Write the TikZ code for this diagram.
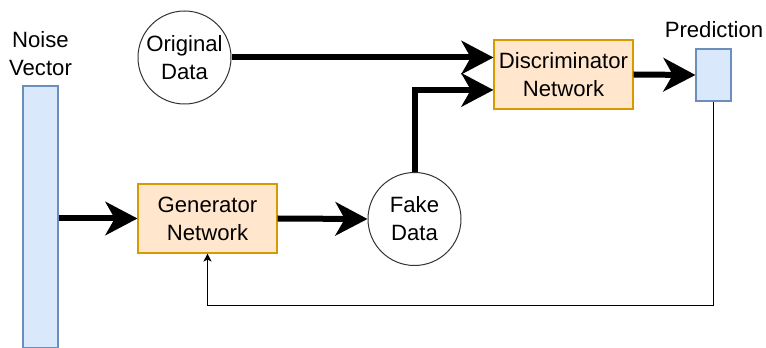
\documentclass[tikz,border=0pt]{standalone}
\usepackage{fontspec}
\setmainfont{Liberation Sans}
\usetikzlibrary{arrows.meta,calc}
\definecolor{bluefill}{HTML}{DAE8FC}
\definecolor{bluedraw}{HTML}{6C8EBF}
\definecolor{orfill}{HTML}{FFE6CC}
\definecolor{ordraw}{HTML}{D79B00}
\tikzset{
  txt/.style={font=\fontsize{16.6}{21}\selectfont, align=center, inner sep=0pt},
  netbox/.style={txt, draw=ordraw, fill=orfill, line width=0.8pt, minimum width=104.25pt, minimum height=51.75pt},
  databall/.style={txt, circle, draw=black!80, line width=0.75pt, minimum size=69.75pt},
  vecbox/.style={draw=bluedraw, fill=bluefill, line width=0.8pt, inner sep=0pt},
  bigarrow/.style={line width=4.5pt, -{Stealth[length=24pt 0 0,width=25pt 0,inset=7pt 0]}},
  thinarrow/.style={line width=0.75pt, -{Stealth[length=6pt,width=6pt,inset=1.5pt]}}
}
\begin{document}
\begin{tikzpicture}[x=0.75pt,y=-0.75pt]
\useasboundingbox (0,0) rectangle (766,348);
\node[vecbox, minimum width=26.25pt, minimum height=196.5pt] (noise) at (40.5,217) {};
\node[txt] (noiselbl) at (40.5,54) {Noise\\Vector};
\node[databall] (orig) at (184.5,57.5) {Original\\Data};
\node[netbox] (disc) at (563.5,74.5) {Discriminator\\Network};
\node[vecbox, minimum width=26.25pt, minimum height=39pt] (pred) at (713.5,75) {};
\node[txt] (predlbl) at (714,30) {Prediction};
\node[netbox] (gen) at (207.5,218.5) {Generator\\Network};
\node[databall] (fake) at (414.5,219) {Fake\\Data};
\coordinate (din) at ([yshift=-11.6pt]disc.west);
\coordinate (fbc) at ($(gen.south)+(0,52)$);
\draw[bigarrow] (orig.east) -- (orig.east -| disc.west);
\draw[bigarrow] (fake.north) |- (din);
\draw[bigarrow] (disc.east) -- (pred.west);
\draw[bigarrow] (noise.east |- gen.west) -- (gen.west);
\draw[bigarrow] (gen.east) -- (fake.west);
\draw[thinarrow] (pred.south) |- (fbc) -- (gen.south);
\end{tikzpicture}
\end{document}
